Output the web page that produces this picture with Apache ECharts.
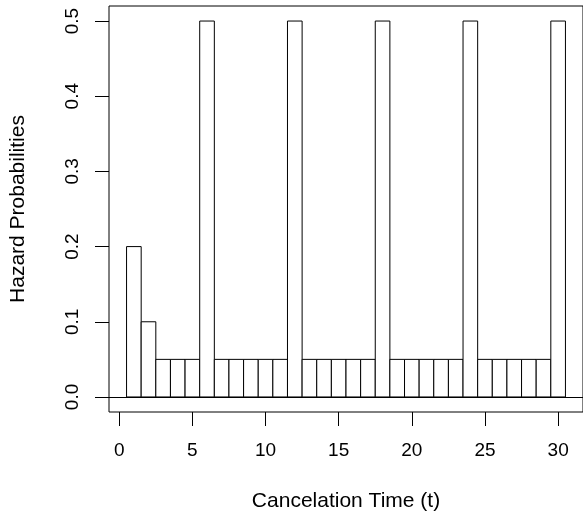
<!DOCTYPE html>
<html>
<head>
<meta charset="utf-8">
<script src="https://cdn.jsdelivr.net/npm/echarts@6/dist/echarts.min.js"></script>
<style>html,body{margin:0;padding:0;background:#fff;}#c{width:583px;height:517px;}</style>
</head>
<body>
<div id="c"></div>
<script>
const times = [1,2,3,4,5,6,7,8,9,10,11,12,13,14,15,16,17,18,19,20,21,22,23,24,25,26,27,28,29,30];
const hazard = [0.2,0.1,0.05,0.05,0.05,0.5,0.05,0.05,0.05,0.05,0.05,0.5,0.05,0.05,0.05,0.05,0.05,0.5,0.05,0.05,0.05,0.05,0.05,0.5,0.05,0.05,0.05,0.05,0.05,0.5];
const xTicks = [0,5,10,15,20,25,30];
const yTicks = [0,0.1,0.2,0.3,0.4,0.5];

const FONT = 'Liberation Sans';
const chart = echarts.init(document.getElementById('c'), null, {renderer:'canvas'});
chart.setOption({
  animation:false,
  backgroundColor:'#fff',
  grid:{left:108, top:6, width:481.7, height:407.4, show:true, borderColor:'#000', borderWidth:1, backgroundColor:'transparent', containLabel:false},
  xAxis:{
    type:'value', min:-0.7, max:31.7,
    name:'Cancelation Time (t)', nameLocation:'middle', nameGap:79,
    nameTextStyle:{fontFamily:FONT, fontSize:21, color:'#000'},
    axisLine:{show:false, onZero:false},
    axisTick:{show:true, customValues:xTicks, length:14, inside:false, lineStyle:{color:'#000', width:1}},
    axisLabel:{show:true, customValues:xTicks, margin:29, fontFamily:FONT, fontSize:19, color:'#000'},
    splitLine:{show:false}
  },
  yAxis:{
    type:'value', min:-0.02, max:0.52,
    name:'Hazard Probabilities', nameLocation:'middle', nameGap:80,
    nameTextStyle:{fontFamily:FONT, fontSize:21, color:'#000'},
    axisLine:{show:false, onZero:false},
    axisTick:{show:true, customValues:yTicks, length:14, inside:false, lineStyle:{color:'#000', width:1}},
    axisLabel:{show:true, customValues:yTicks, rotate:90, margin:27, fontFamily:FONT, fontSize:19, color:'#000',
      formatter:function(v){return v.toFixed(1);}},
    splitLine:{show:false}
  },
  series:[{
    type:'custom',
    data: times.map((t,i)=>[t, hazard[i]]),
    renderItem:function(params, api){
      const x = api.value(0), y = api.value(1);
      const p0 = api.coord([x-0.5, y]);
      const p1 = api.coord([x+0.5, 0]);
      return {type:'rect', shape:{x:p0[0], y:p0[1], width:p1[0]-p0[0], height:p1[1]-p0[1]},
        style:{fill:'#fff', stroke:'#000', lineWidth:1}};
    },
    markLine:{silent:true, symbol:['none','none'], label:{show:false}, lineStyle:{color:'#000', width:1, type:'solid'},
      data:[{yAxis:0}]}
  }]
});
</script>
</body>
</html>
